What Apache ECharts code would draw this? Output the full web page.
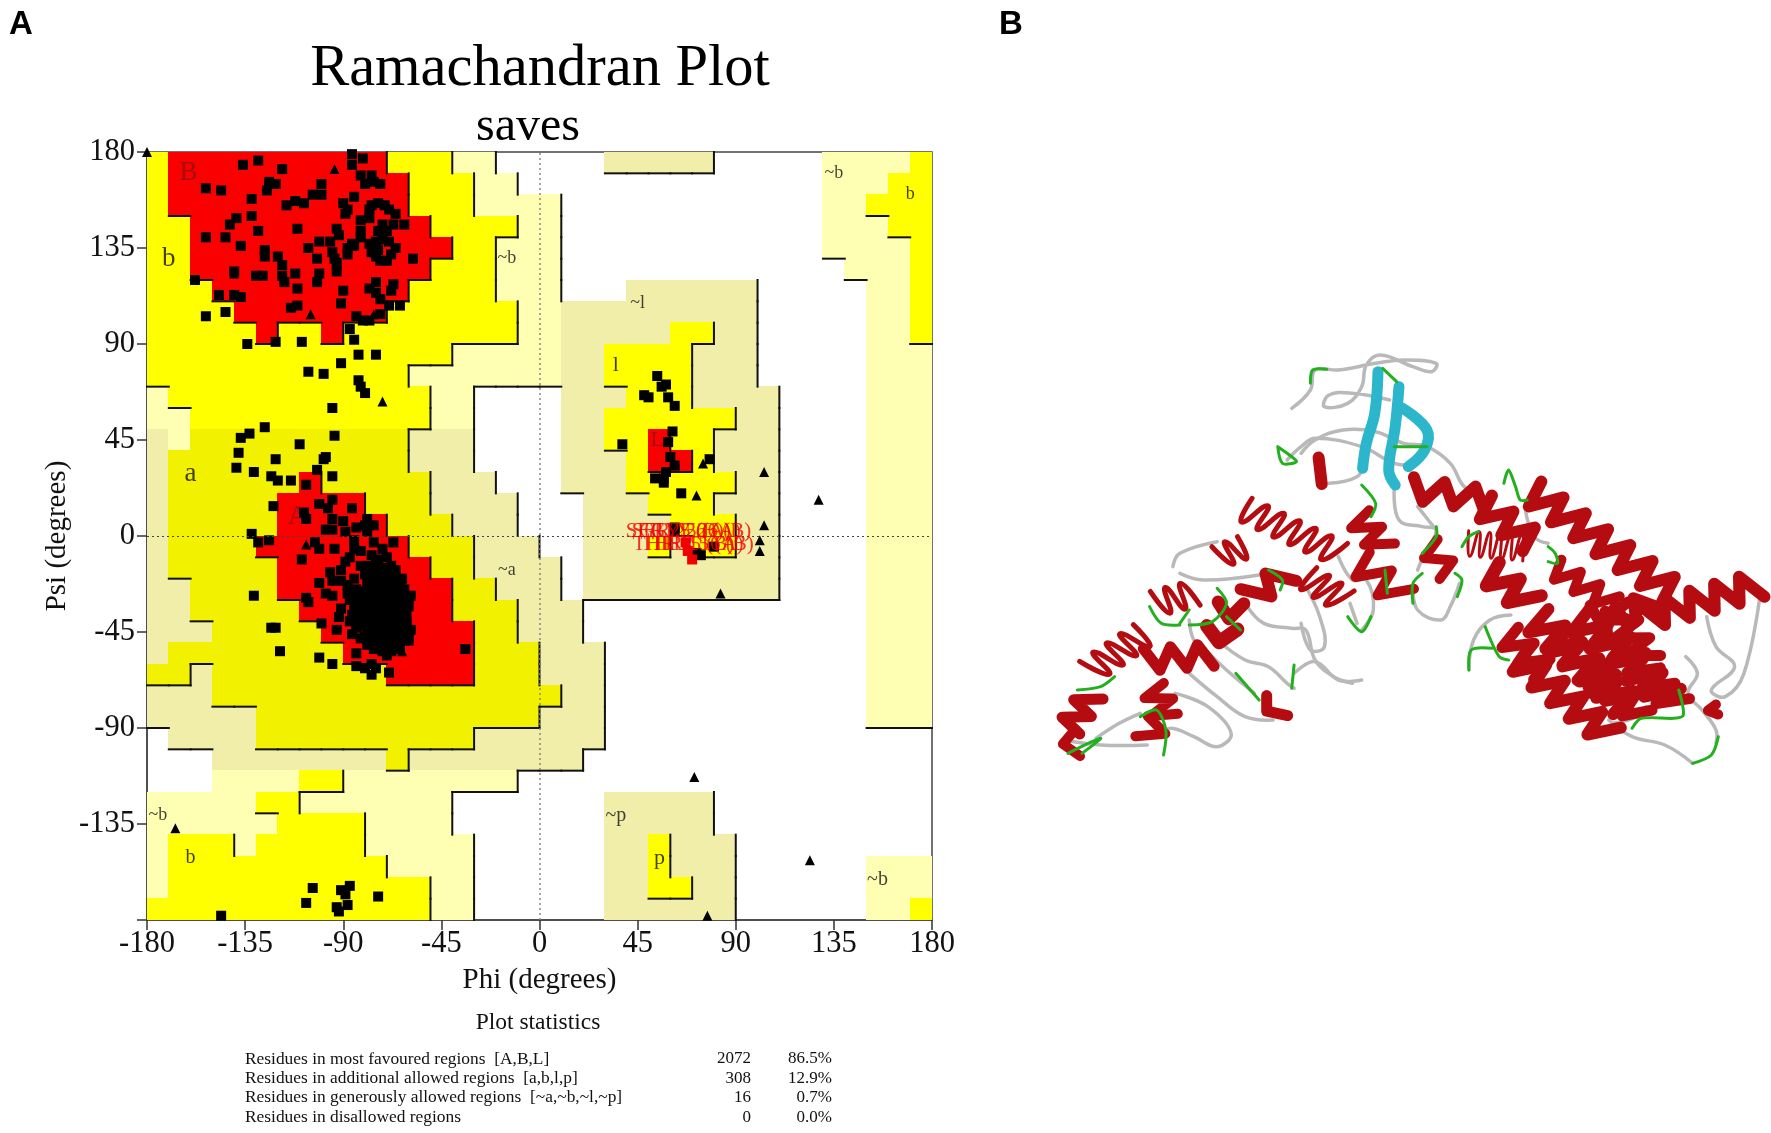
<!DOCTYPE html>
<html>
<head>
<meta charset="utf-8">
<title>Ramachandran Plot</title>
<script src="https://cdn.jsdelivr.net/npm/echarts@6/dist/echarts.min.js"></script>
<style>
html, body { margin: 0; padding: 0; background: #fff; }
#chart { width: 1771px; height: 1133px; }
</style>
</head>
<body>
<div id="chart"></div>
<script>
// region map, 10 degree cells. one row per psi band from 170..180 down to -180..-170
// R core, Y/y allowed, P/p generous, . disallowed (lower case = tinted version)
var regionRows = [
	'Y1 R10 Y3 P2 .5 p5 .5 P4 Y1',
	'Y1 R11 Y3 P2 .14 P3 Y2',
	'Y1 R11 Y3 P4 .12 P2 Y3',
	'Y2 R11 Y4 P2 .12 P3 Y2',
	'Y2 R12 Y2 P3 .12 P4 Y1',
	'Y2 R11 Y3 P3 .13 P3 Y1',
	'Y3 R9 Y4 P3 .3 p6 .5 P2 Y1',
	'Y4 R7 Y6 P2 p9 .5 P2 Y1',
	'Y5 R1 Y2 R1 Y8 P2 p5 Y2 p2 .5 P2 Y1',
	'Y14 P5 p2 Y4 p3 .5 P3',
	'Y12 P7 p2 Y4 p3 .5 P3',
	'P1 Y12 P2 .4 p3 Y3 p4 .4 P3',
	'P2 Y11 P2 .4 p2 Y6 p2 .4 P3',
	'p1 P1 y10 p3 .4 p2 Y2 R1 Y2 p3 .4 P3',
	'p1 y11 p3 .4 p3 Y1 R2 Y1 p3 .4 P3',
	'p1 y6 R1 y5 p3 .3 p3 Y5 p2 .4 P3',
	'p1 y5 R4 y3 p4 .3 p3 Y3 p3 .4 P3',
	'p1 y5 R5 y3 p3 .3 p4 Y3 p2 .4 P3',
	'p1 y4 R7 y3 p3 .2 p3 Y1 p1 Y2 p2 .4 P3',
	'p1 y5 R7 y2 p4 .1 p9 .4 P3',
	'p2 y4 R8 y2 p3 .1 p9 .4 P3',
	'p2 y5 R7 y3 p3 .13 P3',
	'p3 y5 R7 y2 p3 .13 P3',
	'p1 y8 R6 y3 p3 .12 P3',
	'y2 p1 y8 R4 y3 p3 .12 P3',
	'p3 y16 p2 .12 P3',
	'p5 y13 p3 .12 P3',
	'.1 p4 y10 p6 .15',
	'.3 p8 y1 p8 .16',
	'.3 P4 Y2 P8 .19',
	'P5 Y2 P7 .7 p5 .10',
	'P6 Y4 P4 .7 p5 .10',
	'P1 Y3 P1 Y5 P5 .6 p2 Y1 p3 .9',
	'P1 Y10 P4 .6 p2 Y1 p3 .6 P3',
	'P1 Y12 P2 .6 p2 Y2 p2 .6 P3',
	'Y13 P2 .6 p6 .6 P2 Y1'
];
var regionColors = { R: '#fb0000', Y: '#ffff00', y: '#f2f200', P: '#ffffb4', p: '#f1eeaa' };
var regionLevels = { R: 3, Y: 2, y: 2, P: 1, p: 1, '.': 0 };

var betaSquares = [
	[-136,174],[-129,176],[-118,172],[-86,179],[-81,177],[-86,174],[-82,169],[-77,169],[-73,165],[-80,165],[-76,166],
	[-153,163],[-146,162],[-124,166],[-121,165],[-125,162],[-100,165],[-104,160],[-100,160],[-132,158],[-90,156],[-85,159],
	[-116,155],[-112,157],[-108,156],[-88,153],[-89,151],[-132,150],[-139,149],[-142,146],[-111,144],[-129,143],[-153,140],
	[-144,140],[-137,136],[-93,144],[-92,141],[-101,138],[-96,138],[-106,135],[-126,134],[-126,131],[-120,131],[-118,127],
	[-102,130],[-95,133],[-94,130],[-93,128],[-88,135],[-86,137],[-88,132],[-85,136],[-140,124],[-130,122],[-127,122],
	[-118,122],[-112,123],[-117,119],[-101,123],[-102,119],[-93,124],[-158,120],[-111,116],[-147,113],[-140,113],[-137,112],
	[-90,115],[-91,109],[-111,108],[-114,107],[-153,103],[-144,105],[-75,119],[-78,116],[-75,114],[-73,111],[-67,118],
	[-68,115],[-69,108],[-64,108],[-73,104],[-84,103],[-81,101],[-78,101],[-87,97],[-85,92],[-121,91],[-109,91],[-134,90]
];
var ringSquares = [
	[-78,153],[-77,155],[-74,156],[-71,155],[-69,153],[-66,151],[-67,146],[-70,143],[-72,146],[-74,143],[-62,146],[-82,148],
	[-78,149],[-82,143],[-82,140],[-78,137],[-75,138],[-72,139],[-69,138],[-66,135],[-68,132],[-70,129],[-73,129],[-75,131],
	[-77,133],[-74,134],[-58,130]
];
var bridgeSquares = [
	[-106,77],[-99,76],[-91,81],[-83,85],[-75,85],[-83,73],[-82,70],[-80,67],[-95,60],[-94,47],[-110,43],[-126,51],[-133,48],
	[-137,46],[-138,39],[-121,36],[-98,37],[-99,36],[-139,32],[-131,30],[-123,28],[-120,26],[-114,26],[-102,31],[-95,28],
	[-107,24],[-122,14]
];
var alphaSquares = [
	[-101,15],[-95,17],[-97,13],[-86,13],[-108,11],[-107,8],[-95,8],[-90,7],[-98,3],[-95,3],[-89,2],[-79,8],[-84,4],[-80,5],
	[-76,5],[-79,2],[-132,1],[-129,-3],[-124,-2],[-103,-3],[-101,-6],[-94,-6],[-85,-2],[-85,-6],[-76,-3],[-67,-3],[-72,-6],
	[-82,-7],[-77,-9],[-109,-11],[-87,-10],[-89,-12],[-82,-14],[-74,-11],[-96,-17],[-91,-16],[-95,-21],[-91,-21],[-88,-23],
	[-85,-20],[-101,-22],[-98,-27],[-95,-28],[-107,-29],[-106,-31],[-131,-28],[-87,-30],[-85,-29],[-91,-34],[-92,-38],
	[-87,-40],[-84,-43],[-100,-41],[-93,-44],[-123,-43],[-121,-43],[-119,-54],[-101,-57],[-95,-60],[-84,-55],[-69,-64],
	[-79,-51],[-70,-56],[-68,-54],[-84,-61],[-80,-62],[-77,-60],[-77,-65],[-75,-62],[-34,-53],[-60,-29],[-59,-28],[-62,-30],[-61,-46]
];
var alphaCore = [
	[-79,-14],[-75,-13],[-71,-15],[-68,-14],[-80,-18],[-76,-19],[-72,-17],[-69,-18],[-66,-19],[-79,-22],[-75,-23],[-71,-21],
	[-67,-22],[-64,-23],[-80,-26],[-76,-25],[-72,-27],[-68,-26],[-64,-27],[-81,-30],[-77,-31],[-73,-29],[-69,-30],[-65,-31],
	[-61,-32],[-82,-34],[-78,-35],[-74,-33],[-70,-34],[-66,-35],[-62,-34],[-83,-38],[-79,-37],[-75,-39],[-71,-38],[-67,-37],
	[-63,-38],[-81,-42],[-77,-41],[-73,-43],[-69,-42],[-65,-41],[-61,-42],[-79,-46],[-75,-45],[-71,-47],[-67,-46],[-63,-45],
	[-60,-47],[-78,-50],[-74,-49],[-70,-51],[-66,-50],[-62,-49],[-76,-53],[-72,-54],[-66,-53],[-85,-33],[-86,-37],[-70,-10],
	[-78,-16],[-74,-16],[-70,-17],[-66,-16],[-78,-20],[-74,-21],[-70,-20],[-66,-21],[-63,-20],[-78,-24],[-74,-24],[-70,-24],
	[-66,-25],[-62,-25],[-79,-28],[-75,-28],[-71,-28],[-67,-28],[-63,-29],[-80,-32],[-76,-33],[-72,-32],[-68,-32],[-64,-33],
	[-60,-33],[-81,-36],[-77,-36],[-73,-36],[-69,-36],[-65,-37],[-61,-37],[-81,-40],[-77,-39],[-73,-40],[-69,-40],[-65,-39],
	[-61,-40],[-78,-44],[-74,-44],[-70,-44],[-66,-44],[-62,-44],[-59,-44],[-76,-48],[-72,-48],[-68,-48],[-64,-48],[-60,-49],
	[-74,-52],[-70,-53],[-64,-52],[-84,-25],[-83,-29],[-88,-27],[-84,-41],[-80,-47],[-82,-48],[-86,-46]
];
var lowerSquares = [
	[-104,-165],[-87,-164],[-91,-166],[-89,-168],[-107,-172],[-93,-174],[-92,-176],[-88,-173],[-74,-169],[-146,-178]
];
var leftHandSquares = [
	[54,75],[56,70],[58,71],[48,66],[50,65],[59,65],[62,61],[61,49],[59,44],[38,43],[60,37],[62,33],[58,30],[53,27],[57,27],
	[57,25],[65,20],[78,36],[62,4],[62,2],[80,-5],[72,-8],[74,-9]
];
var glycineTriangles = [
	[-180,180],[-94,172],[-105,104],[-76,104],[-140,123],[-72,63],[-107,-4],[-63,-54],[-167,-137],[75,34],[72,19],[103,30],
	[128,17],[103,5],[101,-2],[101,-7],[83,-27],[71,-113],[124,-152],[77,-178]
];
var outlierSquares = [[67,-3],[68,-7],[70,-11]];
var outlierLabels = [
	[62,2,'SER 25 (B)'],[65,2,'SER 25 (A)'],[69,2,'GLY 26 (A)'],[74,2,'GLY 26 (B)'],
	[66,-4,'THR 15 (B)'],[70,-4,'THR 15 (A)'],[75,-4,'THR 16 (B)']
];
// phi, psi, text, font size
var regionLetters = [
	[-161,170,'B',27],[-170,130,'b',27],[-160,29,'a',27],[-111,9,'A',27],[-15,130,'~b',18],[45,109,'~l',18],[35,80,'l',22],
	[54,45,'L',22],[135,170,'~b',18],[170,160,'b',18],[-15,-16,'~a',18],[-175,-131,'~b',18],[-160,-151,'b',20],[35,-131,'~p',20],
	[55,-151,'p',22],[155,-161,'~b',20]
];
var statLabels = [
	'Residues in most favoured regions  [A,B,L]',
	'Residues in additional allowed regions  [a,b,l,p]',
	'Residues in generously allowed regions  [~a,~b,~l,~p]',
	'Residues in disallowed regions'
];
var statCounts = ['2072', '308', '16', '0'];
var statPercents = ['86.5%', '12.9%', '0.7%', '0.0%'];

// panel B, only a sketch of the ribbon picture, in crop coordinates
var coilPaths = [
	[[540,205],[580,150],[590,90],[640,90],[720,70],[780,60],[850,70],[840,95],[800,80],[730,45],[700,75],[690,140],[660,190],[610,200],[620,165],[670,160],[750,180]],
	[[530,360],[560,320],[590,295],[690,320],[760,370],[800,375]],
	[[560,340],[590,300],[650,270],[720,275],[780,310],[830,320],[880,370],[910,440],[945,460]],
	[[620,430],[680,410],[695,370]],
	[[760,440],[770,540],[820,560],[850,570],[825,640],[810,690]],
	[[810,500],[850,570]],
	[[285,680],[300,640],[380,605]],
	[[300,700],[350,720],[470,705]],
	[[320,840],[330,900],[355,930],[400,990],[460,1060]],
	[[445,800],[480,850],[540,865],[570,870],[590,960],[630,1010],[670,1030]],
	[[570,740],[600,830],[610,920],[580,930],[560,850]],
	[[640,650],[670,720],[700,720],[715,810],[690,870]],
	[[665,790],[680,850]],
	[[800,740],[810,810],[860,840],[880,800],[900,730]],
	[[380,900],[440,960],[490,980],[530,1030],[545,1045]],
	[[545,1000],[590,965],[640,1020],[690,1020]],
	[[320,1000],[380,1070],[440,1130],[500,1140]],
	[[290,1060],[360,1100],[410,1180],[380,1220],[330,1190],[280,1165],[260,1190]],
	[[50,1200],[130,1215],[230,1215]],
	[[120,1195],[170,1150],[215,1120]],
	[[1040,500],[1060,590],[1090,610]],
	[[1430,830],[1450,920],[1490,980],[1440,1050],[1470,1070],[1510,1000],[1545,760]],
	[[1385,950],[1410,1000],[1390,1060],[1420,1110],[1450,1170],[1450,1210]],
	[[1220,1140],[1270,1190],[1340,1215],[1400,1270]],
	[[1230,1150],[1280,1130],[1300,1100]],
	[[920,990],[930,900],[965,840],[1010,825]]
];
var turnPaths = [
	[[580,130],[585,90],[615,88]],
	[[735,85],[765,125]],
	[[510,320],[520,370],[550,365],[535,345],[510,320]],
	[[690,435],[720,490],[710,530]],
	[[760,320],[830,320]],
	[[995,430],[1005,390],[1020,440],[1030,480],[1045,480]],
	[[1090,620],[1105,640],[1110,670],[1090,665]],
	[[850,560],[850,590],[820,640]],
	[[820,700],[800,730],[800,790]],
	[[890,700],[905,720],[895,770]],
	[[740,690],[745,760]],
	[[660,830],[690,875],[710,830]],
	[[490,690],[520,720],[515,750]],
	[[380,745],[400,790],[370,845],[320,855]],
	[[235,800],[260,850],[300,855]],
	[[320,810],[300,850]],
	[[400,830],[430,870]],
	[[420,1000],[470,1080]],
	[[545,975],[540,1045]],
	[[160,1010],[130,1040],[80,1050]],
	[[60,1240],[130,1195],[90,1240]],
	[[215,1130],[250,1110],[270,1170],[265,1245]],
	[[920,990],[925,930],[970,925]],
	[[955,860],[985,950],[1005,960]],
	[[1270,1165],[1290,1135],[1360,1135],[1380,1125],[1370,1050]],
	[[1400,1270],[1440,1245],[1455,1190]],
	[[905,620],[920,590],[940,575]]
];
var strandPaths = [
	[[725,95],[718,220],[700,310],[692,385]],
	[[770,140],[762,260],[748,390],[762,435]],
	[[778,205],[830,270],[825,330],[790,380]]
];
// x1, y1, x2, y2, half turns, amplitude, width
var helixList = [
	[1050,450,1360,760,13,36,12],[795,445,960,480,5,34,12],[1300,830,1540,735,9,38,12],[1100,680,1225,790,6,28,10],
	[945,490,1060,610,5,34,12],[915,610,1040,625,11,38,3],[960,690,1050,790,4,34,13],[1020,950,1220,1185,10,34,12],
	[1060,830,1260,1100,11,38,12],[1150,830,1345,1070,10,38,12],[1230,800,1300,960,6,34,11],[1240,910,1365,1095,8,34,11],
	[1000,880,1085,1000,5,32,11],[1180,830,1290,830,4,34,11],[1320,780,1200,860,4,32,11],[1100,900,1210,1040,7,34,11],
	[1180,1000,1290,1130,6,30,11],[435,505,640,640,12,36,5],
	[680,525,735,625,4,30,10],[680,660,775,770,4,36,10],[385,650,440,620,4,34,5],[570,710,650,780,6,36,5],[450,770,530,700,3,30,12],
	[250,790,330,760,5,38,5],[380,810,435,815,2,24,13],[355,880,420,890,2,22,14],[110,990,225,880,8,36,5],[225,960,370,945,5,34,11],
	[240,1040,270,1110,3,28,10],[270,1110,230,1200,3,28,10],[110,1065,60,1170,4,28,11],[60,1170,70,1250,2,16,10],[475,1075,520,1135,2,14,11],
	[590,355,612,430,1,8,12],[830,610,880,705,3,26,10],[1440,1095,1445,1125,2,10,10]
];

function panelPoint(p) {
	return [1040 + p[0] / 2.145, 340 + p[1] / 3];
}
function helixPoints(h) {
	var dx = h[2] - h[0], dy = h[3] - h[1];
	var len = Math.sqrt(dx * dx + dy * dy);
	var pts = [];
	for (var i = 0; i <= h[4]; i++) {
		var t = i / h[4], side = i % 2 ? 1 : -1;
		pts.push(panelPoint([h[0] + dx * t - dy / len * h[5] * side, h[1] + dy * t + dx / len * h[5] * side]));
	}
	return pts;
}
function ribbon(points, color, width, smooth) {
	return {
		type: 'polyline', silent: true,
		shape: { points: points, smooth: smooth || 0 },
		style: { stroke: color, lineWidth: width, fill: null, lineJoin: 'round', lineCap: 'round' }
	};
}

// expand the rows into cells
var cellCodes = regionRows.map(function (row) {
	var codes = [];
	row.split(' ').forEach(function (run) {
		for (var i = 0; i < parseInt(run.slice(1)); i++) codes.push(run[0]);
	});
	return codes;
});
var cellData = [], edgeData = [];
cellCodes.forEach(function (codes, r) {
	var psi = 170 - r * 10;
	codes.forEach(function (code, c) {
		var phi = -180 + c * 10, level = regionLevels[code];
		if (code !== '.') cellData.push([phi, psi, code]);
		// black step lines go on the right and lower side of a region
		if (c < 35 && regionLevels[codes[c + 1]] < level) edgeData.push([phi + 10, psi, phi + 10, psi + 10]);
		if (r < 35 && regionLevels[cellCodes[r + 1][c]] < level) edgeData.push([phi, psi, phi + 10, psi]);
	});
});

var squares = betaSquares.concat(ringSquares, bridgeSquares, alphaSquares, alphaCore, lowerSquares, leftHandSquares);
var serif = 'Liberation Serif';

var graphics = [];
statLabels.forEach(function (label, i) {
	var y = 1059 + i * 19.4;
	graphics.push({ type: 'text', silent: true, style: { text: label, x: 245, y: y, font: '17.4px ' + serif, fill: '#111', verticalAlign: 'middle' } });
	graphics.push({ type: 'text', silent: true, style: { text: statCounts[i], x: 751, y: y, font: '17px ' + serif, fill: '#111', align: 'right', verticalAlign: 'middle' } });
	graphics.push({ type: 'text', silent: true, style: { text: statPercents[i], x: 832, y: y, font: '17px ' + serif, fill: '#111', align: 'right', verticalAlign: 'middle' } });
});
graphics.push({ type: 'text', silent: true, style: { text: 'Plot statistics', x: 538, y: 1023, font: '23.5px ' + serif, fill: '#111', align: 'center', verticalAlign: 'middle' } });
coilPaths.forEach(function (p) { graphics.push(ribbon(p.map(panelPoint), '#b9b9b9', 3.5, 0.4)); });
strandPaths.forEach(function (p) { graphics.push(ribbon(p.map(panelPoint), '#2cb6cc', 11, 0.4)); });
helixList.forEach(function (h) { graphics.push(ribbon(helixPoints(h), '#b50c12', h[6], h[6] < 6 ? 0.6 : 0)); });
turnPaths.forEach(function (p) { graphics.push(ribbon(p.map(panelPoint), '#22b01e', 3, 0.3)); });

var myChart = echarts.init(document.getElementById('chart'));
var option = {
	animation: false,
	backgroundColor: '#fff',
	title: [
		{ text: 'A', left: 9, top: 8, padding: 0, textStyle: { fontFamily: 'Liberation Sans', fontWeight: 'bold', fontSize: 33, color: '#000' } },
		{ text: 'B', left: 999, top: 8, padding: 0, textStyle: { fontFamily: 'Liberation Sans', fontWeight: 'bold', fontSize: 33, color: '#000' } },
		{ text: 'Ramachandran Plot', left: 540, top: 40, padding: 0, textAlign: 'center', textStyle: { fontFamily: serif, fontWeight: 'normal', fontSize: 58.5, color: '#000' } },
		{ text: 'saves', left: 528, top: 103, padding: 0, textAlign: 'center', textStyle: { fontFamily: serif, fontWeight: 'normal', fontSize: 48, color: '#000' } }
	],
	grid: { left: 147, top: 152, width: 785, height: 768, show: true, borderColor: '#444', borderWidth: 1.5, backgroundColor: 'transparent' },
	xAxis: {
		type: 'value', min: -180, max: 180, interval: 45,
		name: 'Phi (degrees)', nameLocation: 'middle', nameGap: 46,
		nameTextStyle: { fontFamily: serif, fontSize: 29, color: '#111' },
		axisLine: { show: true, onZero: false, lineStyle: { color: '#444', width: 1.5 } },
		axisTick: { show: true, length: 10, lineStyle: { color: '#333', width: 1.5 } },
		axisLabel: { fontFamily: serif, fontSize: 30.5, color: '#111', margin: 8 },
		splitLine: { show: false }
	},
	yAxis: {
		type: 'value', min: -180, max: 180, interval: 45,
		name: 'Psi (degrees)', nameLocation: 'middle', nameGap: 75,
		nameTextStyle: { fontFamily: serif, fontSize: 29, color: '#111' },
		axisLine: { show: true, onZero: false, lineStyle: { color: '#444', width: 1.5 } },
		axisTick: { show: true, length: 10, lineStyle: { color: '#333', width: 1.5 } },
		axisLabel: {
			fontFamily: serif, fontSize: 30.5, color: '#111', margin: 12,
			formatter: function (v) { return v === -180 ? '' : v; }
		},
		splitLine: { show: false }
	},
	graphic: graphics,
	series: [
		{
			name: 'regions', type: 'custom', silent: true, z: 1,
			data: cellData,
			encode: { x: 0, y: 1 },
			renderItem: function (params, api) {
				var a = api.coord([api.value(0), api.value(1) + 10]);
				var b = api.coord([api.value(0) + 10, api.value(1)]);
				return {
					type: 'rect',
					shape: { x: Math.floor(a[0]), y: Math.floor(a[1]), width: Math.ceil(b[0]) - Math.floor(a[0]), height: Math.ceil(b[1]) - Math.floor(a[1]) },
					style: { fill: regionColors[cellData[params.dataIndex][2]] }
				};
			}
		},
		{
			name: 'edges', type: 'custom', silent: true, z: 2,
			data: edgeData,
			encode: { x: [0, 2], y: [1, 3] },
			renderItem: function (params, api) {
				var a = api.coord([api.value(0), api.value(1)]);
				var b = api.coord([api.value(2), api.value(3)]);
				return {
					type: 'line',
					shape: { x1: a[0], y1: a[1], x2: b[0], y2: b[1] },
					style: { stroke: '#111', lineWidth: 2, lineCap: 'square' }
				};
			}
		},
		{
			name: 'letters', type: 'scatter', silent: true, z: 3, symbolSize: 0,
			data: regionLetters.map(function (d) {
				var core = d[2] === 'A' || d[2] === 'B' || d[2] === 'L';
				return {
					value: [d[0], d[1]],
					label: { show: true, position: 'inside', formatter: d[2], fontFamily: serif, fontSize: d[3], color: core ? '#8f1212' : '#111' }
				};
			}),
			markLine: {
				silent: true, symbol: 'none', animation: false, label: { show: false },
				data: [
					{ xAxis: 0, lineStyle: { color: '#888', type: [2, 3], width: 1.5 } },
					{ yAxis: 0, lineStyle: { color: '#444', type: [2, 3], width: 1.2 } }
				]
			}
		},
		{
			name: 'residues', type: 'scatter', silent: true, z: 4, symbol: 'rect', symbolSize: 10,
			itemStyle: { color: '#000', opacity: 1 }, data: squares
		},
		{
			name: 'glycine', type: 'scatter', silent: true, z: 4, symbol: 'triangle', symbolSize: 10,
			itemStyle: { color: '#000', opacity: 1 }, data: glycineTriangles
		},
		{
			name: 'outliers', type: 'scatter', silent: true, z: 5, symbol: 'rect', symbolSize: 10,
			itemStyle: { color: '#f00000', opacity: 1 }, data: outlierSquares
		},
		{
			name: 'outlier labels', type: 'scatter', silent: true, z: 6, symbolSize: 0,
			data: outlierLabels.map(function (d) {
				return {
					value: [d[0], d[1]],
					label: { show: true, position: 'inside', formatter: d[2], fontFamily: serif, fontSize: 21, color: '#f00000' }
				};
			})
		}
	]
};
myChart.setOption(option, true);
</script>
</body>
</html>
